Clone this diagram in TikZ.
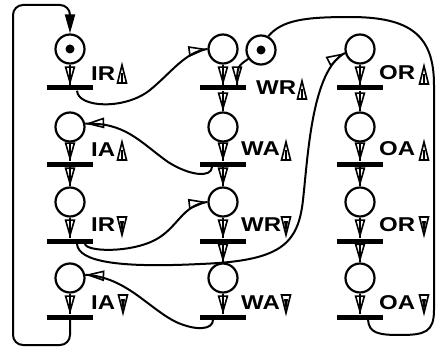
\documentclass[tikz,border=0pt]{standalone}
\usepackage{fontspec}
\setmainfont{Liberation Sans}[FakeStretch=1.2]
\usepackage{tikz}
\usetikzlibrary{arrows.meta, decorations.markings}
\tikzset{
	place/.style={circle, draw, line width=2.2pt, minimum size=29pt, inner sep=0pt},
	bar/.style={rectangle, fill=black, minimum width=46pt, minimum height=5pt, inner sep=0pt},
	token/.style={circle, fill=black, minimum size=9pt, inner sep=0pt},
	lbl/.style={anchor=west, inner sep=0pt, font=\fontsize{20}{22}\selectfont\bfseries},
	arc/.style={line width=2pt, postaction={decorate}, decoration={markings,
		mark=at position 1 with {\arrow[line width=1.6pt]{Triangle[open, length=19pt, width=10.5pt]}}}},
	uptri/.pic={
		\draw[line width=1.6pt, line join=miter] (-4.5,9) -- (0,-9) -- (4.5,9) -- cycle;
		\draw[line width=2pt] (0,9) -- (0,-1);
	},
	downtri/.pic={
		\draw[line width=1.6pt, line join=miter] (-4.5,-9) -- (0,9) -- (4.5,-9) -- cycle;
		\fill (-2,-5) -- (2,-5) -- (0,8) -- cycle;
	},
}

\begin{document}
\begin{tikzpicture}[x=1pt, y=-1pt]
\useasboundingbox (0,0) rectangle (437,353);

\node[place] (pIRu) at (70,49) {};
\node[token] (kIRu) at (pIRu) {};
\node[bar] (tIRu) at (70,88) {};
\node[place] (pIAu) at (70,127) {};
\node[bar] (tIAu) at (70,164) {};
\node[place] (pIRd) at (70,202) {};
\node[bar] (tIRd) at (70,241) {};
\node[place] (pIAd) at (70,278) {};
\node[bar] (tIAd) at (70,317) {};

\node[place] (pWRu) at (223,49) {};
\node[bar] (tWRu) at (223,88) {};
\node[place] (pWAu) at (223,127) {};
\node[bar] (tWAu) at (223,164) {};
\node[place] (pWRd) at (223,202) {};
\node[bar] (tWRd) at (223,241) {};
\node[place] (pWAd) at (223,278) {};
\node[bar] (tWAd) at (223,317) {};

\node[place] (pD) at (261,50) {};
\node[token] (kD) at (pD) {};

\node[place] (pORu) at (360,49) {};
\node[bar] (tORu) at (360,88) {};
\node[place] (pOAu) at (360,127) {};
\node[bar] (tOAu) at (360,164) {};
\node[place] (pORd) at (360,202) {};
\node[bar] (tORd) at (360,241) {};
\node[place] (pOAd) at (360,278) {};
\node[bar] (tOAd) at (360,317) {};

\node[lbl] (lIRu) at (91,74) {IR};
\node[lbl] (lIAu) at (91,150) {IA};
\node[lbl] (lIRd) at (91,225) {IR};
\node[lbl] (lIAd) at (91,303) {IA};
\node[lbl] (lWRu) at (256,88) {WR};
\node[lbl] (lWAu) at (241,149) {WA};
\node[lbl] (lWRd) at (241,225) {WR};
\node[lbl] (lWAd) at (241,303) {WA};
\node[lbl] (lORu) at (379,73) {OR};
\node[lbl] (lOAu) at (379,149) {OA};
\node[lbl] (lORd) at (379,225) {OR};
\node[lbl] (lOAd) at (379,303) {OA};

\pic at (122,74) {uptri};
\pic at (122,151) {uptri};
\pic at (122,226) {downtri};
\pic at (123,304) {downtri};
\pic at (302,90) {uptri};
\pic at (286,151) {uptri};
\pic at (286,226) {downtri};
\pic at (286,304) {downtri};
\pic at (424,75) {uptri};
\pic at (424,151) {uptri};
\pic at (424,226) {downtri};
\pic at (424,304) {downtri};

\draw[arc] (pIRu) -- (tIRu);
\draw[arc] (pIAu) -- (tIAu);
\draw[arc] (tIAu) -- (pIRd);
\draw[arc] (pIRd) -- (tIRd);
\draw[arc] (pIAd) -- (tIAd);

\draw[arc] (pWRu) -- (tWRu);
\draw[arc] (tWRu) -- (pWAu);
\draw[arc] (pWAu) -- (tWAu);
\draw[arc] (tWAu) -- (pWRd);
\draw[arc] (pWRd) -- (tWRd);
\draw[arc] (tWRd) -- (pWAd);
\draw[arc] (pWAd) -- (tWAd);

\draw[arc] (pORu) -- (tORu);
\draw[arc] (tORu) -- (pOAu);
\draw[arc] (pOAu) -- (tOAu);
\draw[arc] (tOAu) -- (pORd);
\draw[arc] (pORd) -- (tORd);
\draw[arc] (tORd) -- (pOAd);
\draw[arc] (pOAd) -- (tOAd);

\draw[line width=2pt, rounded corners=10pt, -{Triangle[length=19pt, width=10pt]}]
	(tIAd.south) -- (70,345) -- (13,345) -- (13,5) -- (70,5) -- (pIRu.north);

\draw[arc] ([xshift=7]tIRu.south) .. controls (78,108) and (125,110) .. (150,90)
	.. controls (172,72) and (185,52) .. (pWRu.west);
\draw[arc] ([xshift=-11]tWAu.south) .. controls (212,178) and (190,176) .. (168,162)
	.. controls (140,142) and (125,122) .. (pIAu.12);
\draw[arc] ([xshift=15]tIRd.south) .. controls (86,252) and (130,253) .. (155,240)
	.. controls (178,228) and (182,205) .. (pWRd.west);
\draw[arc] ([xshift=7]tIRd.south) .. controls (78,262) and (120,268) .. (200,264)
	.. controls (280,261) and (298,245) .. (303,200)
	.. controls (308,155) and (312,70) .. (pORu.195);
\draw[arc] ([xshift=-10]tWAd.south) .. controls (213,330) and (196,331) .. (176,322)
	.. controls (148,308) and (126,277) .. (pIAd.12);
\draw[arc] (pD.215) .. controls (238,66) and (237,66) .. ([xshift=14]tWRu.north);
\draw[arc] ([xshift=8]tOAd.south) .. controls (369,333) and (378,335) .. (400,335)
	.. controls (425,335) and (434,332) .. (434,310) -- (434,85)
	.. controls (434,35) and (410,17) .. (350,17)
	.. controls (305,17) and (282,20) .. (pD.62);
\end{tikzpicture}
\end{document}
